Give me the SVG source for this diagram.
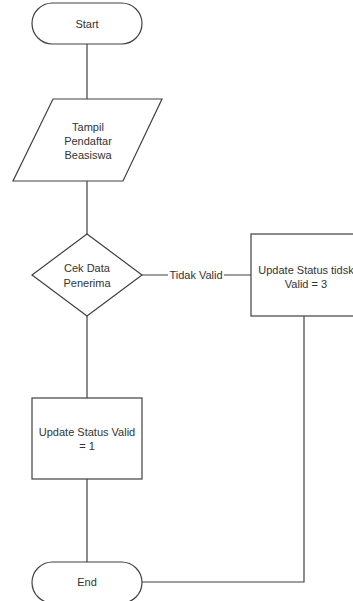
<svg xmlns="http://www.w3.org/2000/svg" width="353" height="601" viewBox="0 0 353 601">
  <style>
    .shape { fill: #ffffff; stroke: #404040; stroke-width: 1.2; }
    .edge { fill: none; stroke: #404040; stroke-width: 1.2; }
    text { font-family: "Liberation Sans", Arial, sans-serif; font-size: 11px; fill: #333333; text-anchor: middle; }
    .lbl-bg { fill: #ffffff; stroke: none; }
  </style>
  <rect width="353" height="601" fill="#ffffff"/>

  <!-- connectors -->
  <g id="connectors">
    <path class="edge" d="M87 44 V99"/>
    <path class="edge" d="M87 181 V234"/>
    <path class="edge" d="M87 316 V398"/>
    <path class="edge" d="M87 479 V562"/>
    <path class="edge" d="M142 275 H251"/>
    <path class="edge" d="M304 316 V582 H142"/>
    <rect class="lbl-bg" x="168" y="268" width="56" height="13"/>
    <text x="196" y="279">Tidak Valid</text>
    <rect class="lbl-bg" x="72" y="292" width="30" height="13"/>
    <text x="87" y="303">Valid</text>
  </g>

  <g id="start">
    <rect class="shape" x="32" y="3" width="110" height="41" rx="20.5"/>
    <text x="87" y="27.5">Start</text>
  </g>

  <g id="tampil">
    <polygon class="shape" points="53,99 162,99 123,181 13,181"/>
    <text x="88" y="130.5">Tampil</text>
    <text x="88" y="144.5">Pendaftar</text>
    <text x="88" y="158.5">Beasiswa</text>
  </g>

  <g id="cek">
    <polygon class="shape" points="87,234 142,275 87,316 32,275"/>
    <text x="87" y="271.5">Cek Data</text>
    <text x="87" y="286.5">Penerima</text>
  </g>

  <g id="update-valid">
    <rect class="shape" x="32" y="398" width="110" height="81"/>
    <text x="87" y="435.5">Update Status Valid</text>
    <text x="87" y="449.5">= 1</text>
  </g>

  <g id="update-tidak">
    <rect class="shape" x="251" y="234" width="110" height="82"/>
    <text x="306" y="273.5">Update Status tidsk</text>
    <text x="306" y="287.5">Valid = 3</text>
  </g>

  <g id="end">
    <rect class="shape" x="32" y="562" width="110" height="41" rx="20.5"/>
    <text x="87" y="585.5">End</text>
  </g>
</svg>
